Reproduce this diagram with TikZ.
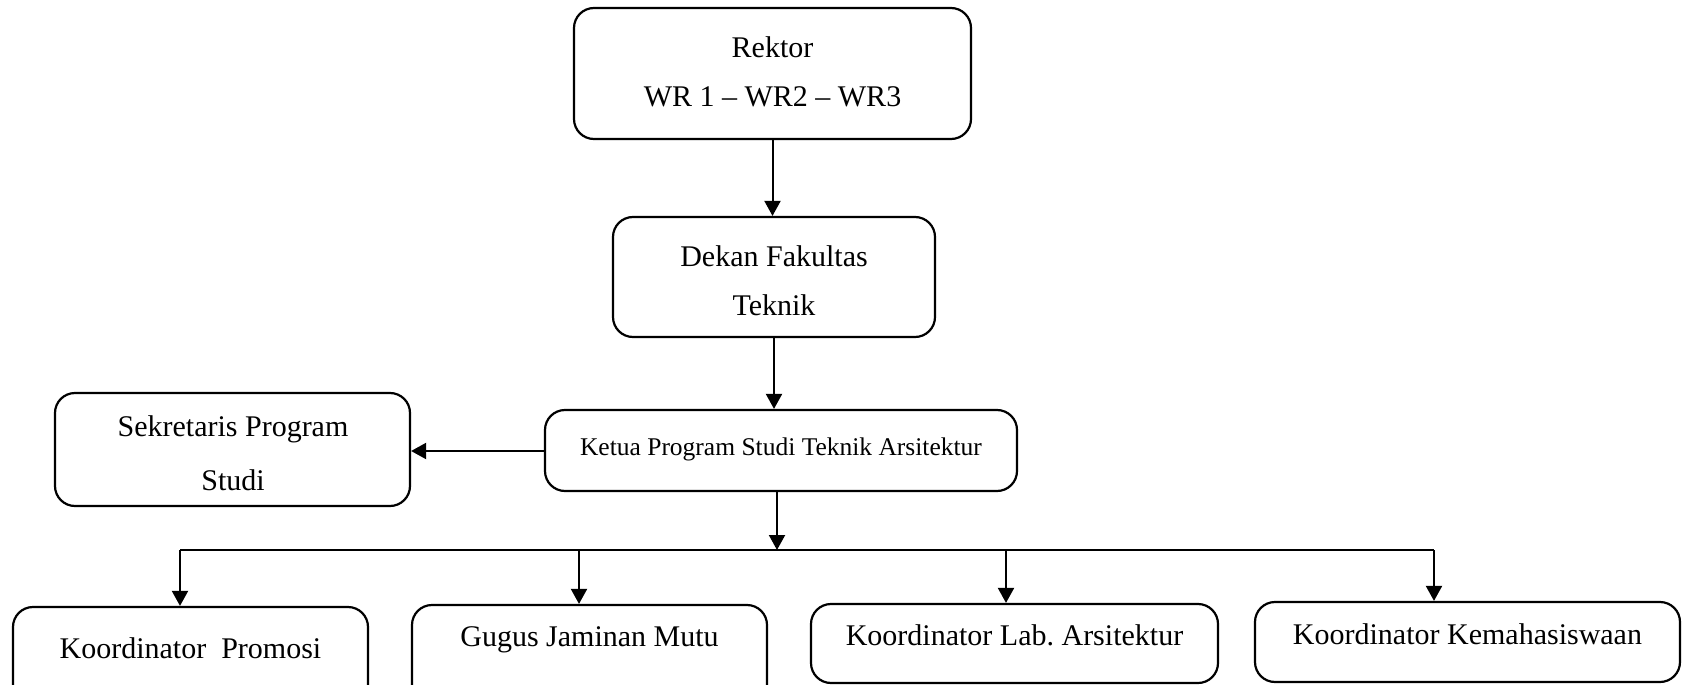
\documentclass[tikz,border=0pt]{standalone}
\usepackage{fontspec}
\setmainfont{Liberation Serif}
\usetikzlibrary{arrows.meta}
\tikzset{
  box/.style={draw=black, line width=2.2pt, rounded corners=20pt, inner sep=0pt, fill=none},
  lbl/.style={inner sep=0pt, anchor=center, font=\fontsize{30}{36}\selectfont},
  smalllbl/.style={inner sep=0pt, anchor=center, font=\fontsize{25.5}{30}\selectfont},
  conn/.style={line width=2pt, draw=black},
  arr/.style={conn, -{Triangle[length=15pt,width=16pt]}},
}
\frenchspacing
\begin{document}
\begin{tikzpicture}[x=1pt,y=-1pt]
\useasboundingbox (0,0) rectangle (1682,685);
\clip (0,0) rectangle (1682,685);
% boxes
\node[box, minimum width=397pt, minimum height=131pt] (rektor) at (772.5,73.5) {};
\node[box, minimum width=322pt, minimum height=120pt] (dekan) at (774,277) {};
\node[box, minimum width=355pt, minimum height=113pt] (sekr) at (232.5,449.5) {};
\node[box, minimum width=472pt, minimum height=81pt] (ketua) at (781,450.5) {};
\node[box, minimum width=355pt, minimum height=113pt] (b1) at (190.5,663.5) {};
\node[box, minimum width=355pt, minimum height=115pt] (b2) at (589.5,662.5) {};
\node[box, minimum width=407pt, minimum height=79pt] (b3) at (1014.5,643.5) {};
\node[box, minimum width=425pt, minimum height=80pt] (b4) at (1467.5,642) {};
% texts
\node[lbl] (t1) at (772.5,47) {Rektor};
\node[lbl] (t2) at (772.5,97) {WR 1 – WR2 – WR3};
\node[lbl] (t3) at (774,256) {Dekan Fakultas};
\node[lbl] (t4) at (774,305) {Teknik};
\node[lbl] (t5) at (233,429) {Sekretaris Program};
\node[lbl] (t6) at (233,480) {Studi};
\node[smalllbl] (t7) at (781,449) {Ketua Program Studi Teknik Arsitektur};
\node[lbl] (t8) at (190.5,648) {Koordinator\ \ Promosi};
\node[lbl] (t9) at (589.5,640) {Gugus Jaminan Mutu};
\node[lbl] (t10) at (1014.5,635) {Koordinator Lab.\ Arsitektur};
\node[lbl] (t11) at (1467.5,634) {Koordinator Kemahasiswaan};
% connectors
\coordinate (bus) at (777,550);
\coordinate (d1) at (180,550);
\coordinate (d2) at (579,550);
\coordinate (d3) at (1006,550);
\coordinate (d4) at (1434,550);
\draw[arr] (rektor.south) -- (rektor.south |- dekan.north);
\draw[arr] (dekan.south) -- (dekan.south |- ketua.north);
\draw[arr] (ketua.west |- 0,451) -- (sekr.east |- 0,451);
\draw[arr] (bus |- ketua.south) -- (bus);
\draw[conn, line width=1.6pt] (d1) -- (d4);
\draw[arr] (d1) -- (d1 |- b1.north);
\draw[arr] (d2) -- (d2 |- b2.north);
\draw[arr] (d3) -- (d3 |- b3.north);
\draw[arr] (d4) -- (d4 |- b4.north);
\end{tikzpicture}
\end{document}
